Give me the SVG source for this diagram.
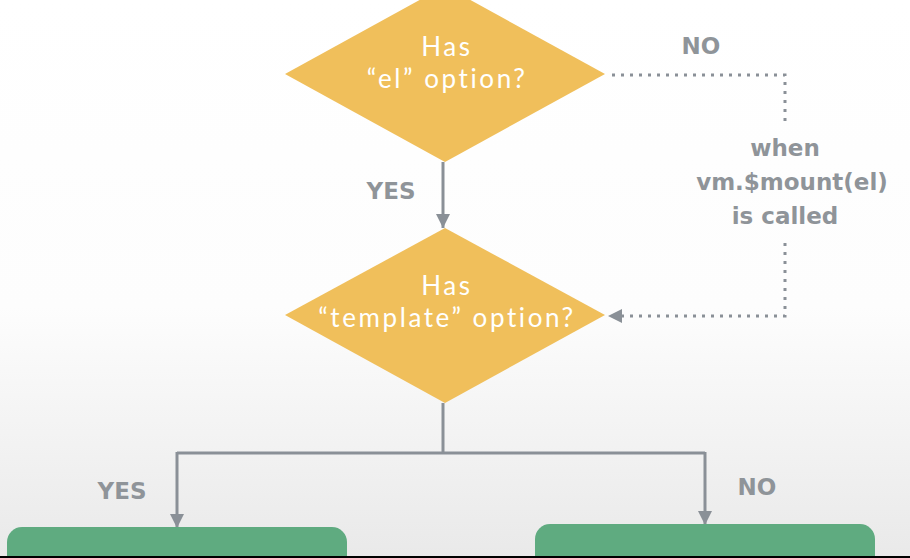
<svg xmlns="http://www.w3.org/2000/svg" width="910" height="558" viewBox="0 0 910 558">
  <defs>
    <linearGradient id="bg" x1="0" y1="0" x2="0" y2="1">
      <stop offset="0" stop-color="#ffffff"/>
      <stop offset="0.55" stop-color="#fdfdfd"/>
      <stop offset="1" stop-color="#e9e9e9"/>
    </linearGradient>
    <marker id="arr" viewBox="0 0 14 14" refX="14" refY="7" markerWidth="14" markerHeight="14" markerUnits="userSpaceOnUse" orient="auto">
      <path d="M0,0 L14,7 L0,14 Z" fill="#8a9097"/>
    </marker>
  </defs>
  <style>
    .dia { fill: #f0bf5b; }
    .box { fill: #5fab80; }
    .dtext { font-family: "Lato", "Open Sans", "DejaVu Sans", sans-serif; font-weight: 400; font-size: 26px; letter-spacing: 2.6px; fill: #ffffff; text-anchor: middle; }
    .lbl { font-family: "DejaVu Sans", "Noto Sans", sans-serif; font-weight: bold; font-size: 23px; fill: #8f9499; text-anchor: middle; }
    .line { stroke: #8a9097; stroke-width: 3; fill: none; }
    .dot { stroke: #8a9097; stroke-width: 3; fill: none; stroke-dasharray: 3 6; }
  </style>
  <rect x="0" y="0" width="910" height="558" fill="url(#bg)"/>

  <g id="connectors">
    <path class="line" d="M443,162 V228" marker-end="url(#arr)"/>
    <path class="dot" d="M612,75 H785 V123"/>
    <path class="dot" d="M785,243 V316 H622"/>
    <path d="M608,316 L622,309 L622,323 Z" fill="#8a9097"/>
    <path class="line" d="M443,403 V453"/>
    <path class="line" d="M177,453 H705"/>
    <path class="line" d="M177,452 V528" marker-end="url(#arr)"/>
    <path class="line" d="M705,452 V525" marker-end="url(#arr)"/>
  </g>

  <g id="node-el">
    <polygon class="dia" points="445,-14 605,74 445,162 285,74"/>
    <text class="dtext" x="447" y="56">Has</text>
    <text class="dtext" x="447" y="88">“el” option?</text>
  </g>

  <g id="node-template">
    <polygon class="dia" points="445,228 605,315 445,403 285,315"/>
    <text class="dtext" x="447" y="295">Has</text>
    <text class="dtext" x="447" y="327">“template” option?</text>
  </g>

  <g id="label-no-top"><text class="lbl" x="701" y="54">NO</text></g>
  <g id="label-when">
    <text class="lbl" x="785" y="156">when</text>
    <text class="lbl" x="792" y="190">vm.$mount(el)</text>
    <text class="lbl" x="785" y="224">is called</text>
  </g>
  <g id="label-yes-mid"><text class="lbl" x="391" y="199">YES</text></g>
  <g id="label-yes-left"><text class="lbl" x="122" y="499">YES</text></g>
  <g id="label-no-right"><text class="lbl" x="757" y="495">NO</text></g>

  <g id="node-left">
    <rect class="box" x="7" y="527" width="340" height="60" rx="15"/>
  </g>
  <g id="node-right">
    <rect class="box" x="535" y="524" width="340" height="60" rx="15"/>
  </g>
  <rect x="0" y="556" width="910" height="2" fill="#000000"/>
</svg>
